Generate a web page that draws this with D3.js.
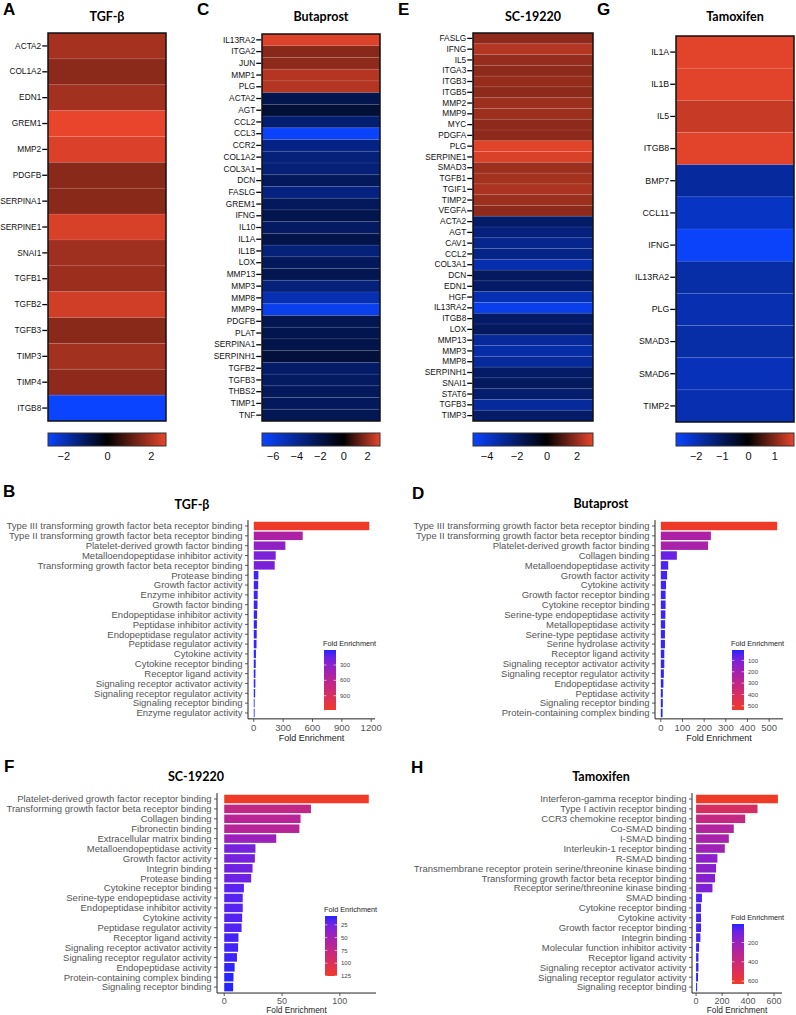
<!DOCTYPE html>
<html>
<head>
<meta charset="utf-8">
<script src="https://cdn.jsdelivr.net/npm/d3@7"></script>
<style>
  body { margin: 0; background: #fff; }
  svg { display: block; }
  text { font-family: Arial, "Liberation Sans", sans-serif; }
  .ttl { font-family: Lato, "Open Sans", sans-serif; font-weight: bold; }
  .letter { font-family: Arial, "Liberation Sans", sans-serif; font-weight: bold; }
</style>
</head>
<body>
<svg id="fig" width="796" height="1015"></svg>
<script>
// ---- heatmap data (log2 fold change) ----
const genesA = ["ACTA2", "COL1A2", "EDN1", "GREM1", "MMP2", "PDGFB", "SERPINA1", "SERPINE1", "SNAI1", "TGFB1", "TGFB2", "TGFB3", "TIMP3", "TIMP4", "ITGB8"];
const valuesA = [1.92, 1.62, 1.9, 2.7, 2.55, 1.6, 1.6, 2.5, 1.85, 1.8, 2.42, 1.6, 1.9, 1.65, -2.7];

const genesC = ["IL13RA2", "ITGA2", "JUN", "MMP1", "PLG", "ACTA2", "AGT", "CCL2", "CCL3", "CCR2", "COL1A2", "COL3A1", "DCN", "FASLG", "GREM1", "IFNG", "IL10", "IL1A", "IL1B", "LOX", "MMP13", "MMP3", "MMP8", "MMP9", "PDGFB", "PLAT", "SERPINA1", "SERPINH1", "TGFB2", "TGFB3", "THBS2", "TIMP1", "TNF"];
const valuesC = [2.95, 1.8, 1.9, 2.4, 2.4, -2.1, -1.5, -3.0, -6.8, -3.6, -3.3, -3.2, -2.5, -3.5, -2.5, -2.1, -2.7, -2.0, -3.3, -2.5, -2.2, -3.3, -4.8, -6.4, -2.2, -2.1, -2.0, -1.6, -2.8, -2.7, -2.5, -2.5, -2.3];

const genesE = ["FASLG", "IFNG", "IL5", "ITGA3", "ITGB3", "ITGB5", "MMP2", "MMP9", "MYC", "PDGFA", "PLG", "SERPINE1", "SMAD3", "TGFB1", "TGIF1", "TIMP2", "VEGFA", "ACTA2", "AGT", "CAV1", "CCL2", "COL3A1", "DCN", "EDN1", "HGF", "IL13RA2", "ITGB8", "LOX", "MMP13", "MMP3", "MMP8", "SERPINH1", "SNAI1", "STAT6", "TGFB3", "TIMP3"];
const valuesE = [1.9, 2.4, 2.0, 1.9, 2.0, 1.9, 2.1, 2.1, 1.9, 1.9, 3.0, 2.9, 2.1, 2.2, 2.3, 2.1, 1.9, -2.0, -2.4, -2.7, -2.6, -3.3, -1.8, -2.0, -3.4, -4.5, -2.0, -1.8, -3.0, -3.2, -3.0, -2.0, -1.8, -2.1, -3.0, -2.0];

const genesG = ["IL1A", "IL1B", "IL5", "ITGB8", "BMP7", "CCL11", "IFNG", "IL13RA2", "PLG", "SMAD3", "SMAD6", "TIMP2"];
const valuesG = [1.7, 1.7, 1.5, 1.7, -1.7, -2.1, -2.7, -1.8, -1.9, -1.8, -2.0, -1.9];

// ---- GO enrichment data (fold enrichment) ----
const termsB = ["Type III transforming growth factor beta receptor binding", "Type II transforming growth factor beta receptor binding", "Platelet-derived growth factor binding", "Metalloendopeptidase inhibitor activity", "Transforming growth factor beta receptor binding", "Protease binding", "Growth factor activity", "Enzyme inhibitor activity", "Growth factor binding", "Endopeptidase inhibitor activity", "Peptidase inhibitor activity", "Endopeptidase regulator activity", "Peptidase regulator activity", "Cytokine activity", "Cytokine receptor binding", "Receptor ligand activity", "Signaling receptor activator activity", "Signaling receptor regulator activity", "Signaling receptor binding", "Enzyme regulator activity"];
const foldB = [1180, 500, 323, 224, 214, 47, 45, 40, 38, 34, 32, 30, 28, 22, 20, 17, 16, 14, 6, 7];

const termsD = ["Type III transforming growth factor beta receptor binding", "Type II transforming growth factor beta receptor binding", "Platelet-derived growth factor binding", "Collagen binding", "Metalloendopeptidase activity", "Growth factor activity", "Cytokine activity", "Growth factor receptor binding", "Cytokine receptor binding", "Serine-type endopeptidase activity", "Metallopeptidase activity", "Serine-type peptidase activity", "Serine hydrolase activity", "Receptor ligand activity", "Signaling receptor activator activity", "Signaling receptor regulator activity", "Endopeptidase activity", "Peptidase activity", "Signaling receptor binding", "Protein-containing complex binding"];
const foldD = [537, 231, 218, 74, 34, 29, 24, 22, 22, 21, 20, 19, 19, 16, 16, 14, 12, 9, 9, 8];

const termsF = ["Platelet-derived growth factor receptor binding", "Transforming growth factor beta receptor binding", "Collagen binding", "Fibronectin binding", "Extracellular matrix binding", "Metalloendopeptidase activity", "Growth factor activity", "Integrin binding", "Protease binding", "Cytokine receptor binding", "Serine-type endopeptidase activity", "Endopeptidase inhibitor activity", "Cytokine activity", "Peptidase regulator activity", "Receptor ligand activity", "Signaling receptor activator activity", "Signaling receptor regulator activity", "Endopeptidase activity", "Protein-containing complex binding", "Signaling receptor binding"];
const foldF = [125, 75, 66, 65, 45, 27, 26.5, 24.5, 23.3, 17, 16, 16, 15.5, 15, 12.3, 12, 11, 9, 8, 7.7];

const termsH = ["Interferon-gamma receptor binding", "Type I activin receptor binding", "CCR3 chemokine receptor binding", "Co-SMAD binding", "I-SMAD binding", "Interleukin-1 receptor binding", "R-SMAD binding", "Transmembrane receptor protein serine/threonine kinase binding", "Transforming growth factor beta receptor binding", "Receptor serine/threonine kinase binding", "SMAD binding", "Cytokine receptor binding", "Cytokine activity", "Growth factor receptor binding", "Integrin binding", "Molecular function inhibitor activity", "Receptor ligand activity", "Signaling receptor activator activity", "Signaling receptor regulator activity", "Signaling receptor binding"];
const foldH = [630, 473, 378, 290, 252, 221, 164, 154, 146, 126, 45, 38, 38, 38, 33, 23, 18, 18, 15, 8];

const svg = d3.select("#fig");
const defs = svg.append("defs");
let gradId = 0;

function letter(txt, x, y) {
  svg.append("text").attr("class", "letter").attr("x", x).attr("y", y)
    .attr("font-size", 17).text(txt);
}

// heatmap with blue-black-red scale and a horizontal colour bar below
function drawHeatmap(o) {
  const g = svg.append("g");
  const color = d3.scaleLinear()
    .domain([o.domain[0], 0, o.domain[1]])
    .range(["#0a44ff", "#000000", "#e8452c"]).clamp(true);
  const y = d3.scaleBand().domain(o.genes).range([o.y0, o.y1]);

  g.selectAll("rect.cell").data(o.genes).join("rect")
    .attr("x", o.x0).attr("width", o.x1 - o.x0)
    .attr("y", d => y(d)).attr("height", y.bandwidth())
    .attr("fill", (d, i) => color(o.values[i]));
  // faint separators between rows
  g.selectAll("line.sep").data(o.genes.slice(1)).join("line")
    .attr("x1", o.x0).attr("x2", o.x1)
    .attr("y1", d => y(d)).attr("y2", d => y(d))
    .attr("stroke", "#ffffff").attr("stroke-opacity", 0.13).attr("stroke-width", 0.8);
  g.append("rect").attr("x", o.x0).attr("y", o.y0)
    .attr("width", o.x1 - o.x0).attr("height", o.y1 - o.y0)
    .attr("fill", "none").attr("stroke", "#111").attr("stroke-width", 1.5);

  const ax = g.append("g").attr("transform", `translate(${o.x0 - 0.75},0)`)
    .call(d3.axisLeft(y).tickSize(5).tickPadding(1));
  ax.select(".domain").remove();
  ax.attr("font-family", null);
  ax.selectAll("line").attr("stroke", "#000").attr("stroke-width", 1.3);
  ax.selectAll("text").attr("font-size", o.labelSize || 8.3).attr("fill", "#111");

  // title
  svg.append("text").attr("class", "ttl").attr("x", (o.x0 + o.x1) / 2).attr("y", 21)
    .attr("text-anchor", "middle").attr("font-size", 12.5).text(o.title);

  // colour bar
  const id = "hg" + (gradId++);
  const grad = defs.append("linearGradient").attr("id", id);
  const zeroOff = (0 - o.domain[0]) / (o.domain[1] - o.domain[0]);
  [[0, o.domain[0]], [zeroOff, 0], [1, o.domain[1]]].forEach(([off, v]) =>
    grad.append("stop").attr("offset", off).attr("stop-color", color(v)));
  const cbY = 433, cbH = 13;
  g.append("rect").attr("x", o.x0).attr("y", cbY).attr("width", o.x1 - o.x0).attr("height", cbH)
    .attr("fill", `url(#${id})`).attr("stroke", "#333").attr("stroke-width", 1);
  const cx = d3.scaleLinear().domain(o.domain).range([o.x0, o.x1]);
  const cax = g.append("g").attr("transform", `translate(0,${cbY + cbH})`)
    .call(d3.axisBottom(cx).tickValues(o.ticks).tickFormat(d3.format("d")).tickSize(0).tickPadding(6));
  cax.select(".domain").remove();
  cax.attr("font-family", null);
  cax.selectAll("text").attr("font-size", 11).attr("fill", "#111");
}

// horizontal GO-term bar chart, ggplot style, with vertical gradient legend
function drawBars(o) {
  const g = svg.append("g");
  const n = o.terms.length;
  const max = d3.max(o.values), min = d3.min(o.values);
  const yTop = o.firstY - 0.6 * o.step;
  const yBot = o.firstY + (n - 1 + 0.6) * o.step;
  const y = d3.scalePoint().domain(o.terms).range([o.firstY, o.firstY + (n - 1) * o.step]);
  const x = d3.scaleLinear().domain([-0.05 * max, 1.05 * max]).range([o.ax0, o.ax1]);
  const fill = d3.scaleLinear().domain([min, max])
    .range(["#2424ff", "#f03a28"]).interpolate(d3.interpolateLab);
  const bh = o.step * 0.86;

  g.selectAll("rect.bar").data(o.terms).join("rect")
    .attr("x", x(0)).attr("y", d => y(d) - bh / 2)
    .attr("width", (d, i) => Math.max(0.8, x(o.values[i]) - x(0)))
    .attr("height", bh)
    .attr("fill", (d, i) => fill(o.values[i]));

  // y axis
  g.append("line").attr("x1", o.ax0).attr("x2", o.ax0).attr("y1", yTop).attr("y2", yBot)
    .attr("stroke", "#222").attr("stroke-width", 1);
  g.selectAll("line.yt").data(o.terms).join("line")
    .attr("x1", o.ax0 - 3).attr("x2", o.ax0).attr("y1", d => y(d)).attr("y2", d => y(d))
    .attr("stroke", "#333").attr("stroke-width", 0.8);
  g.selectAll("text.yl").data(o.terms).join("text")
    .attr("x", o.ax0 - 5.5).attr("y", d => y(d)).attr("dy", "0.35em")
    .attr("text-anchor", "end").attr("font-size", 9.5).attr("fill", "#555").text(d => d);

  // x axis (squeezed a bit when the panel runs into the bottom edge)
  const tight = yBot + 22 > 1012;
  g.append("line").attr("x1", o.ax0).attr("x2", o.ax1).attr("y1", yBot).attr("y2", yBot)
    .attr("stroke", "#222").attr("stroke-width", 1);
  g.selectAll("line.xt").data(o.ticks).join("line")
    .attr("x1", d => x(d)).attr("x2", d => x(d)).attr("y1", yBot).attr("y2", yBot + 3)
    .attr("stroke", "#333").attr("stroke-width", 0.8);
  g.selectAll("text.xl").data(o.ticks).join("text")
    .attr("x", d => x(d)).attr("y", tight ? yBot + 10.5 : yBot + 12.5).attr("text-anchor", "middle")
    .attr("font-size", tight ? 9 : 9.5).attr("fill", "#555").text(d => d);
  g.append("text").attr("x", (o.ax0 + o.ax1) / 2).attr("y", tight ? 1012.8 : yBot + 22)
    .attr("text-anchor", "middle").attr("font-size", tight ? 8.3 : 9).attr("fill", "#222").text("Fold Enrichment");

  // title
  svg.append("text").attr("class", "ttl").attr("x", o.titleX).attr("y", o.titleY)
    .attr("text-anchor", "middle").attr("font-size", 12.5).text(o.title);

  // legend
  const id = "lg" + (gradId++);
  const grad = defs.append("linearGradient").attr("id", id)
    .attr("x1", 0).attr("y1", 0).attr("x2", 0).attr("y2", 1);
  d3.range(0, 1.0001, 0.1).forEach(t =>
    grad.append("stop").attr("offset", t).attr("stop-color", fill(min + t * (max - min))));
  const lx = o.legX, ly = o.legY, lh = 60, lw = 12;
  g.append("text").attr("x", lx - 1).attr("y", ly - 4).attr("font-size", 7.3)
    .attr("fill", "#222").text("Fold Enrichment");
  g.append("rect").attr("x", lx).attr("y", ly).attr("width", lw).attr("height", lh)
    .attr("fill", `url(#${id})`);
  const ly2 = d3.scaleLinear().domain([min, max]).range([ly, ly + lh]);
  g.selectAll("line.lt").data(o.legTicks).join("line")
    .attr("x1", lx).attr("x2", lx + 2.4).attr("y1", d => ly2(d)).attr("y2", d => ly2(d))
    .attr("stroke", "#fff").attr("stroke-width", 0.6);
  g.selectAll("line.lt2").data(o.legTicks).join("line")
    .attr("x1", lx + lw - 2.4).attr("x2", lx + lw).attr("y1", d => ly2(d)).attr("y2", d => ly2(d))
    .attr("stroke", "#fff").attr("stroke-width", 0.6);
  g.selectAll("text.ll").data(o.legTicks).join("text")
    .attr("x", lx + lw + 4).attr("y", d => ly2(d)).attr("dy", "0.35em")
    .attr("font-size", 6).attr("fill", "#444").text(d => d);
}

// ---- heatmaps ----
drawHeatmap({ title: "TGF-β", genes: genesA, values: valuesA, x0: 48, x1: 166, y0: 33, y1: 421,
  domain: [-2.7, 2.7], ticks: [-2, 0, 2] });
drawHeatmap({ title: "Butaprost", genes: genesC, values: valuesC, x0: 262, x1: 380, y0: 34, y1: 421,
  domain: [-6.9, 3.1], ticks: [-6, -4, -2, 0, 2] });
drawHeatmap({ title: "SC-19220", genes: genesE, values: valuesE, x0: 473, x1: 593, y0: 33, y1: 421,
  domain: [-4.9, 3.1], ticks: [-4, -2, 0, 2] });
drawHeatmap({ title: "Tamoxifen", genes: genesG, values: valuesG, x0: 676, x1: 794, y0: 36, y1: 422,
  domain: [-2.75, 1.75], ticks: [-2, -1, 0, 1], labelSize: 8.8 });

letter("A", 3, 15);
letter("C", 197, 15);
letter("E", 398, 15);
letter("G", 597, 15);

// ---- enrichment bar charts ----
drawBars({ title: "TGF-β", titleX: 192, titleY: 509, terms: termsB, values: foldB,
  ax0: 248, ax1: 375, firstY: 526, step: 9.84, ticks: [0, 300, 600, 900, 1200],
  legX: 324, legY: 650, legTicks: [300, 600, 900] });
drawBars({ title: "Butaprost", titleX: 601, titleY: 508, terms: termsD, values: foldD,
  ax0: 655, ax1: 783, firstY: 526, step: 9.84, ticks: [0, 100, 200, 300, 400, 500],
  legX: 732, legY: 650, legTicks: [100, 200, 300, 400, 500] });
drawBars({ title: "SC-19220", titleX: 196, titleY: 781, terms: termsF, values: foldF,
  ax0: 217, ax1: 376, firstY: 799, step: 9.9, ticks: [0, 50, 100],
  legX: 325, legY: 916, legTicks: [25, 50, 75, 100, 125] });
drawBars({ title: "Tamoxifen", titleX: 601, titleY: 781, terms: termsH, values: foldH,
  ax0: 692, ax1: 782, firstY: 799, step: 9.9, ticks: [0, 200, 400, 600],
  legX: 732, legY: 924, legTicks: [200, 400, 600] });

letter("B", 3, 497);
letter("D", 412, 499);
letter("F", 4, 772);
letter("H", 411, 773);
</script>
</body>
</html>
